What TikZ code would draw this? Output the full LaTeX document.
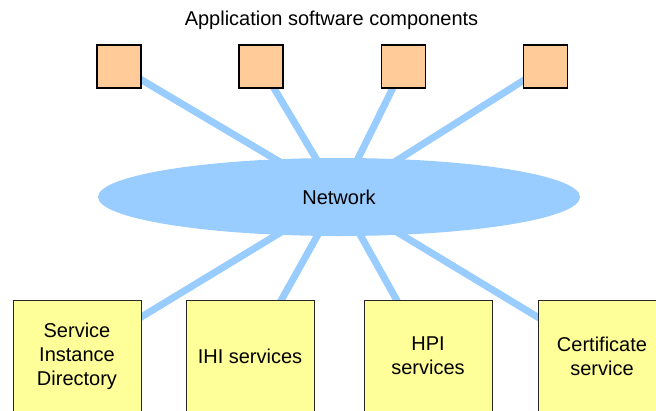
\documentclass[tikz,border=0pt]{standalone}
\usepackage{fontspec}
\setmainfont{Liberation Sans}
\usetikzlibrary{shapes.geometric,backgrounds}
\definecolor{netblue}{HTML}{99CCFF}
\definecolor{compfill}{HTML}{FFCC99}
\definecolor{svcfill}{HTML}{FFFF99}
\begin{document}
\begin{tikzpicture}[x=1pt,y=-1pt,
  every node/.style={font=\fontsize{20}{24}\selectfont},
  comp/.style={draw=black, line width=1.2pt, fill=compfill,
    minimum width=44pt, minimum height=43pt, inner sep=0pt},
  svc/.style={draw=black!85, line width=1pt, fill=svcfill,
    minimum width=128pt, minimum height=112pt, inner sep=0pt, align=center},
  net/.style={ellipse, fill=netblue, minimum width=482pt, minimum height=78pt, inner sep=0pt},
  link/.style={draw=netblue, line width=7pt}]
\useasboundingbox (0,0) rectangle (656,410);
\begin{scope}
\clip (0,0) rectangle (656,410);

% title
\node (title) at (331.5,20) {Application software components};

% application software components
\node[comp] (c1) at (119,66.5) {};
\node[comp] (c2) at (261,66.5) {};
\node[comp] (c3) at (403.5,66.5) {};
\node[comp] (c4) at (545.5,66.5) {};

% network
\node[net] (net) at (339,197) {Network};

% services
\node[svc] (s1) at (77,356) {Service\\Instance\\Directory};
\node[svc] (s2) at (250,356) {IHI services};
\node[svc] (s3) at (428,356) {HPI\\services};
\node[svc] (s4) at (602,356) {Certificate\\service};

% links to the network, drawn underneath
\begin{scope}[on background layer]
\foreach \n in {c1,c2,c3,c4,s1,s2,s3,s4}
  \draw[link] (\n.center) -- (net.center);
\end{scope}
\end{scope}
\end{tikzpicture}
\end{document}
